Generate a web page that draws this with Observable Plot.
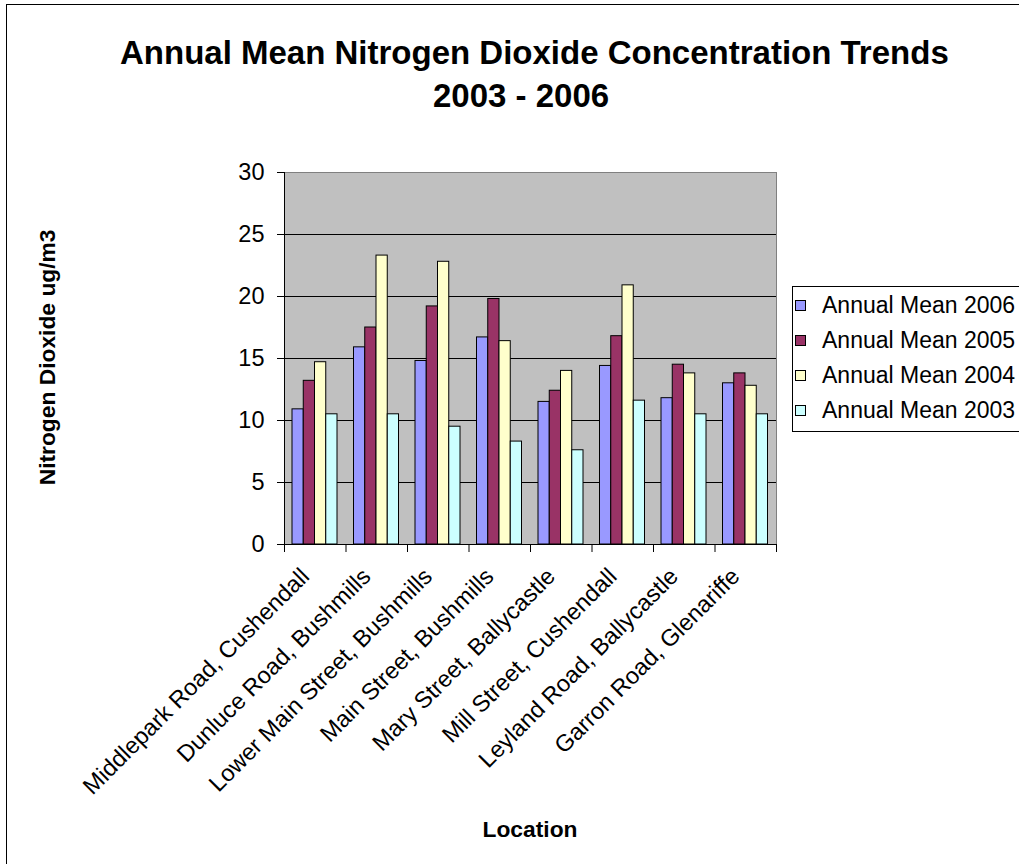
<!DOCTYPE html>
<html>
<head>
<meta charset="utf-8">
<script src="https://cdn.jsdelivr.net/npm/d3@7"></script>
<script src="https://cdn.jsdelivr.net/npm/@observablehq/plot@0.6"></script>
<style>
html, body { margin: 0; padding: 0; background: #fff; overflow: hidden; }
body { width: 1019px; height: 864px; position: relative; font-family: "Liberation Sans", Arial, sans-serif; color: #000; }
#border { position: absolute; left: 6px; top: 4px; width: 1100px; height: 1000px; border: 1px solid #000; box-sizing: border-box; }
#chart { position: absolute; left: 0; top: 0; }
.title { position: absolute; font-weight: bold; font-size: 33px; line-height: 1; white-space: nowrap; }
#ylabel { position: absolute; width: 400px; text-align: center; font-weight: bold; font-size: 22.8px; line-height: 1; white-space: nowrap; transform: rotate(-90deg); }
#xlabel { position: absolute; width: 400px; text-align: center; font-weight: bold; font-size: 22.8px; line-height: 1; white-space: nowrap; }
#legend { position: absolute; left: 792px; top: 286px; width: 260px; height: 146px; border: 1px solid #000; box-sizing: border-box; padding-top: 1px; background: #fff; }
.lrow { height: 35px; display: flex; align-items: center; font-size: 23px; white-space: nowrap; }
.lsw { width: 11px; height: 11px; border: 1px solid #000; box-sizing: border-box; margin-left: 2px; margin-right: 16px; flex: none; }
</style>
</head>
<body>
<div id="border"></div>
<div id="chart"></div>
<div class="title" id="t1" style="left:120px; top:36px;"></div>
<div class="title" id="t2" style="left:433px; top:79px;"></div>
<div id="ylabel"></div>
<div id="xlabel"></div>
<div id="legend"></div>
<script>
// ---- data ----
const locations = [
  "Middlepark Road, Cushendall",
  "Dunluce Road, Bushmills",
  "Lower Main Street, Bushmills",
  "Main Street, Bushmills",
  "Mary Street, Ballycastle",
  "Mill Street, Cushendall",
  "Leyland Road, Ballycastle",
  "Garron Road, Glenariffe"
];
const seriesNames = ["Annual Mean 2006", "Annual Mean 2005", "Annual Mean 2004", "Annual Mean 2003"];
const mean2006 = [10.9, 15.9, 14.8, 16.7, 11.5, 14.4, 11.8, 13.0];
const mean2005 = [13.2, 17.5, 19.2, 19.8, 12.4, 16.8, 14.5, 13.8];
const mean2004 = [14.7, 23.3, 22.8, 16.4, 14.0, 20.9, 13.8, 12.8];
const mean2003 = [10.5, 10.5, 9.5, 8.3, 7.6, 11.6, 10.5, 10.5];
const seriesValues = [mean2006, mean2005, mean2004, mean2003];
const seriesColors = ["#9999ff", "#993366", "#ffffcc", "#ccffff"];
const yTicks = [0, 5, 10, 15, 20, 25, 30];
const titleText = ["Annual Mean Nitrogen Dioxide Concentration Trends", "2003 - 2006"];
const yTitle = "Nitrogen Dioxide ug/m3";
const xTitle = "Location";

// ---- layout ----
const W = 1019, H = 864, ML = 284, MR = 243, MT = 172, MB = 320;
const step = (W - ML - MR) / locations.length;
const groupPad = 8, barW = 11.25;
const lastLoc = locations[locations.length - 1];

const marks = [
  Plot.frame({fill: "#c0c0c0", stroke: "none"}),
  Plot.ruleY(yTicks.slice(1, -1), {stroke: "#000"}),
  Plot.ruleY([yTicks[yTicks.length - 1]], {stroke: "#808080"}),
  Plot.ruleX([lastLoc], {dx: step / 2, y1: 0, y2: 30, stroke: "#808080"})
];
seriesNames.forEach((s, i) => {
  const rows = locations.map((loc, j) => ({loc, value: seriesValues[i][j], series: s}));
  marks.push(Plot.barY(rows, {
    x: "loc", y: "value", fill: seriesColors[i], stroke: "#000", strokeWidth: 1,
    insetLeft: groupPad + i * barW,
    insetRight: step - groupPad - (i + 1) * barW
  }));
});
marks.push(
  Plot.ruleY([0], {stroke: "#000"}),
  Plot.ruleX([locations[0]], {dx: -step / 2, y1: 0, y2: 30, stroke: "#000"}),
  Plot.ruleX(locations, {dx: -step / 2, y1: 0, y2: 0, insetBottom: -8, stroke: "#000"}),
  Plot.ruleX([lastLoc], {dx: step / 2, y1: 0, y2: 0, insetBottom: -8, stroke: "#000"})
);
const hasAxisMark = typeof Plot.axisX === "function";
if (hasAxisMark) {
  marks.push(Plot.axisX({tickSize: 0, tickPadding: 28, dx: -10, tickRotate: -45, textAnchor: "end", lineAnchor: "middle", label: null}));
}

const chart = Plot.plot({
  width: W, height: H,
  marginLeft: ML, marginRight: MR, marginTop: MT, marginBottom: MB,
  style: {fontSize: "23.5px", fontFamily: "'Liberation Sans', Arial, sans-serif", color: "#000", background: "transparent", overflow: "visible"},
  x: hasAxisMark
    ? {domain: locations, padding: 0, round: false, label: null}
    : {domain: locations, padding: 0, round: false, tickSize: 0, tickPadding: 25, tickRotate: -45, label: null},
  y: {domain: [0, 30], ticks: yTicks, tickSize: 7, tickPadding: 13, label: null},
  marks
});
document.getElementById("chart").appendChild(chart);

// ---- titles ----
document.getElementById("t1").textContent = titleText[0];
document.getElementById("t2").textContent = titleText[1];
const yl = document.getElementById("ylabel");
yl.textContent = yTitle;
yl.style.left = (47 - 200) + "px";
yl.style.top = (357 - 11.4) + "px";
const xl = document.getElementById("xlabel");
xl.textContent = xTitle;
xl.style.left = (530 - 200) + "px";
xl.style.top = "818px";

// ---- legend ----
const legend = document.getElementById("legend");
seriesNames.forEach((s, i) => {
  const row = document.createElement("div");
  row.className = "lrow";
  const sw = document.createElement("div");
  sw.className = "lsw";
  sw.style.background = seriesColors[i];
  const tx = document.createElement("span");
  tx.textContent = s;
  row.appendChild(sw);
  row.appendChild(tx);
  legend.appendChild(row);
});
</script>
</body>
</html>
